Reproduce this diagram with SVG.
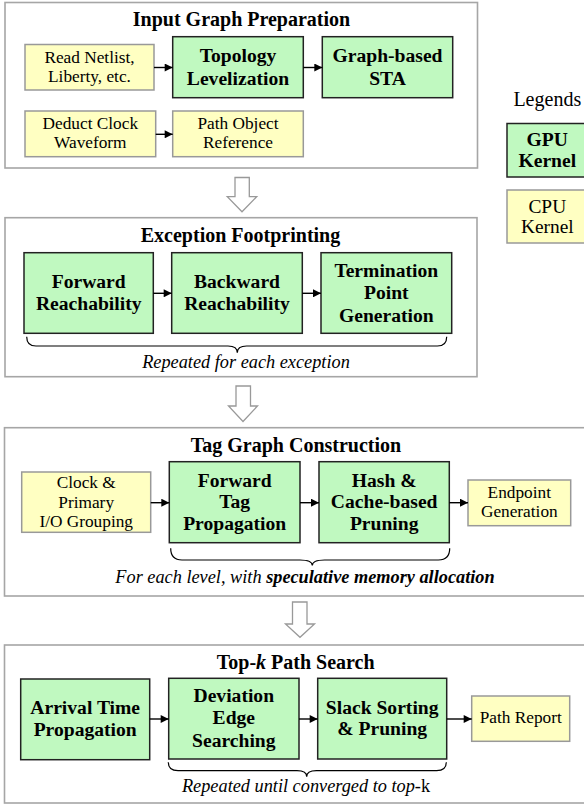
<svg xmlns="http://www.w3.org/2000/svg" width="584" height="804" viewBox="0 0 584 804">
<style>
text{font-family:"Liberation Serif","Times New Roman",serif;fill:#000;text-anchor:middle}
.sec{fill:#fff;stroke:#a6a6a6;stroke-width:1.6}
.gpu{fill:#c0f9c0;stroke:#222;stroke-width:1.5}
.cpu{fill:#ffffc2;stroke:#999;stroke-width:1.5}
.t{font-size:20px;font-weight:bold}
.b{font-size:19.6px;font-weight:bold}
.r{font-size:17.3px}
.c{font-size:18.3px;font-style:italic}
.lg{font-size:20px}
.big{fill:#fff;stroke:#999;stroke-width:1.3}
.cn{stroke:#000;stroke-width:1.4;fill:none}
.br{stroke:#000;stroke-width:1.2;fill:none}
</style>
<defs>
<marker id="ah" viewBox="0 0 10 10" refX="10" refY="5" markerWidth="9" markerHeight="8" markerUnits="userSpaceOnUse" orient="auto">
<path d="M0,0 L10,5 L0,10 z" fill="#000"/>
</marker>
</defs>

<g id="section1">
<rect class="sec" x="5" y="2.5" width="472.5" height="165.5"/>
<text class="t" x="241.5" y="26">Input Graph Preparation</text>
</g>
<g id="read-netlist">
<rect class="cpu" x="25" y="44.5" width="129" height="45.5"/>
<text class="r" x="89.5" y="63.3">Read Netlist,</text>
<text class="r" x="89.5" y="82.3">Liberty, etc.</text>
</g>
<g id="topology">
<rect class="gpu" x="172.7" y="36.7" width="130.6" height="61"/>
<text class="b" x="238" y="62.3">Topology</text>
<text class="b" x="238" y="85">Levelization</text>
</g>
<g id="graph-sta">
<rect class="gpu" x="322.3" y="36.7" width="130.4" height="61"/>
<text class="b" x="387.5" y="62.3">Graph-based</text>
<text class="b" x="387.5" y="85">STA</text>
</g>
<g id="deduct-clock">
<rect class="cpu" x="25" y="111" width="130.7" height="45.7"/>
<text class="r" x="90.3" y="129.3">Deduct Clock</text>
<text class="r" x="90.3" y="147.7">Waveform</text>
</g>
<g id="path-object">
<rect class="cpu" x="172.7" y="111" width="130.6" height="45.7"/>
<text class="r" x="238" y="129.3">Path Object</text>
<text class="r" x="238" y="147.7">Reference</text>
</g>

<g id="legend">
<text class="lg" x="547.3" y="106">Legends</text>
<rect class="gpu" x="507" y="123.5" width="80" height="53.5"/>
<text class="b" x="547.3" y="146">GPU</text>
<text class="b" x="547.3" y="166.7">Kernel</text>
<rect class="cpu" x="507" y="190" width="80" height="53"/>
<text class="lg" style="font-size:19.4px" x="547.3" y="212.7">CPU</text>
<text class="lg" style="font-size:19.4px" x="547.3" y="233.3">Kernel</text>
</g>

<g id="section2">
<rect class="sec" x="5" y="217.7" width="472" height="159"/>
<text class="t" x="240.5" y="241.7">Exception Footprinting</text>
<path class="br" d="M26.7,336.7 Q26.7,346 36,346 L228,346 Q237.3,346 237.3,352.7 Q237.3,346 246.6,346 L437.4,346 Q446.7,346 446.7,336.7"/>
<text class="c" x="246" y="368.3">Repeated for each exception</text>
</g>
<g id="forward-reach">
<rect class="gpu" x="24" y="252.7" width="129.3" height="80.6"/>
<text class="b" x="88.7" y="288.3">Forward</text>
<text class="b" x="88.7" y="310">Reachability</text>
</g>
<g id="backward-reach">
<rect class="gpu" x="171.7" y="252.7" width="130.6" height="80.6"/>
<text class="b" x="237" y="288.3">Backward</text>
<text class="b" x="237" y="310">Reachability</text>
</g>
<g id="termination">
<rect class="gpu" x="321" y="252.7" width="130.7" height="80.6"/>
<text class="b" x="386.3" y="276.7">Termination</text>
<text class="b" x="386.3" y="299.3">Point</text>
<text class="b" x="386.3" y="321.7">Generation</text>
</g>

<g id="section3">
<rect class="sec" x="4.5" y="427.7" width="590" height="168.3"/>
<text class="t" x="296" y="451.7">Tag Graph Construction</text>
<path class="br" d="M170.7,548.3 Q170.7,560 182,560 L300,560 Q312.3,560 312.3,565.5 Q312.3,560 324.6,560 L438.4,560 Q449.7,560 449.7,548.3"/>
<text class="c" x="305" y="583.3">For each level, with <tspan font-weight="bold">speculative memory allocation</tspan></text>
</g>
<g id="clock-grouping">
<rect class="cpu" x="21.7" y="472" width="129" height="60.3"/>
<text class="r" x="86.2" y="488.3">Clock &amp;</text>
<text class="r" x="86.2" y="508.3">Primary</text>
<text class="r" x="86.2" y="526.7">I/O Grouping</text>
</g>
<g id="forward-tag">
<rect class="gpu" x="169.3" y="461.7" width="130.7" height="81"/>
<text class="b" x="234.7" y="486.7">Forward</text>
<text class="b" x="234.7" y="508.3">Tag</text>
<text class="b" x="234.7" y="530">Propagation</text>
</g>
<g id="hash-pruning">
<rect class="gpu" x="319" y="461.7" width="130.3" height="81"/>
<text class="b" x="384.2" y="486.7">Hash &amp;</text>
<text class="b" x="384.2" y="508.3">Cache-based</text>
<text class="b" x="384.2" y="530">Pruning</text>
</g>
<g id="endpoint-gen">
<rect class="cpu" x="468" y="480" width="102.7" height="45.7"/>
<text class="r" x="519.3" y="498.3">Endpoint</text>
<text class="r" x="519.3" y="517.3">Generation</text>
</g>

<g id="section4">
<rect class="sec" x="4.5" y="645" width="590" height="158"/>
<text class="t" x="295.7" y="669">Top-<tspan font-style="italic">k</tspan> Path Search</text>
<path class="br" d="M168.3,762.3 Q168.3,770.7 178,770.7 L297,770.7 Q306.7,770.7 306.7,776.7 Q306.7,770.7 316.4,770.7 L436.6,770.7 Q446.3,770.7 446.3,762.3"/>
<text class="c" x="306" y="792.3">Repeated until converged to top<tspan font-style="normal">-k</tspan></text>
</g>
<g id="arrival-time">
<rect class="gpu" x="20.7" y="679" width="129" height="80.7"/>
<text class="b" x="85.2" y="714">Arrival Time</text>
<text class="b" x="85.2" y="735.7">Propagation</text>
</g>
<g id="deviation">
<rect class="gpu" x="168.7" y="678.3" width="130.3" height="80.7"/>
<text class="b" x="233.8" y="702.3">Deviation</text>
<text class="b" x="233.8" y="724">Edge</text>
<text class="b" x="233.8" y="747.3">Searching</text>
</g>
<g id="slack-sorting">
<rect class="gpu" x="317.7" y="678.3" width="129" height="80.7"/>
<text class="b" x="382.2" y="714">Slack Sorting</text>
<text class="b" x="382.2" y="734.7">&amp; Pruning</text>
</g>
<g id="path-report">
<rect class="cpu" x="471.7" y="696" width="98" height="45.3"/>
<text class="r" x="520.7" y="723.3">Path Report</text>
</g>

<g id="connectors">
<line class="cn" x1="154" y1="67.5" x2="172.7" y2="67.5" marker-end="url(#ah)"/>
<line class="cn" x1="303.3" y1="67.5" x2="322.3" y2="67.5" marker-end="url(#ah)"/>
<line class="cn" x1="155.7" y1="134.3" x2="172.7" y2="134.3" marker-end="url(#ah)"/>
<line class="cn" x1="153.3" y1="293.3" x2="171.7" y2="293.3" marker-end="url(#ah)"/>
<line class="cn" x1="302.3" y1="293.3" x2="321" y2="293.3" marker-end="url(#ah)"/>
<line class="cn" x1="150.7" y1="502.7" x2="169.3" y2="502.7" marker-end="url(#ah)"/>
<line class="cn" x1="300" y1="502.7" x2="319" y2="502.7" marker-end="url(#ah)"/>
<line class="cn" x1="449.3" y1="502.7" x2="468" y2="502.7" marker-end="url(#ah)"/>
<line class="cn" x1="149.7" y1="719" x2="168.7" y2="719" marker-end="url(#ah)"/>
<line class="cn" x1="299" y1="719" x2="317.7" y2="719" marker-end="url(#ah)"/>
<line class="cn" x1="446.7" y1="719" x2="471.7" y2="719" marker-end="url(#ah)"/>
<polygon class="big" points="235,177.5 249.3,177.5 249.3,196.7 256.7,196.7 242,211.7 227.3,196.7 235,196.7"/>
<polygon class="big" points="236,386 250.5,386 250.5,406 257.5,406 243,421.5 228.5,406 236,406"/>
<polygon class="big" points="292.5,602 307,602 307,624 314.5,624 300,637.3 285.5,624 292.5,624"/>
</g>
</svg>
